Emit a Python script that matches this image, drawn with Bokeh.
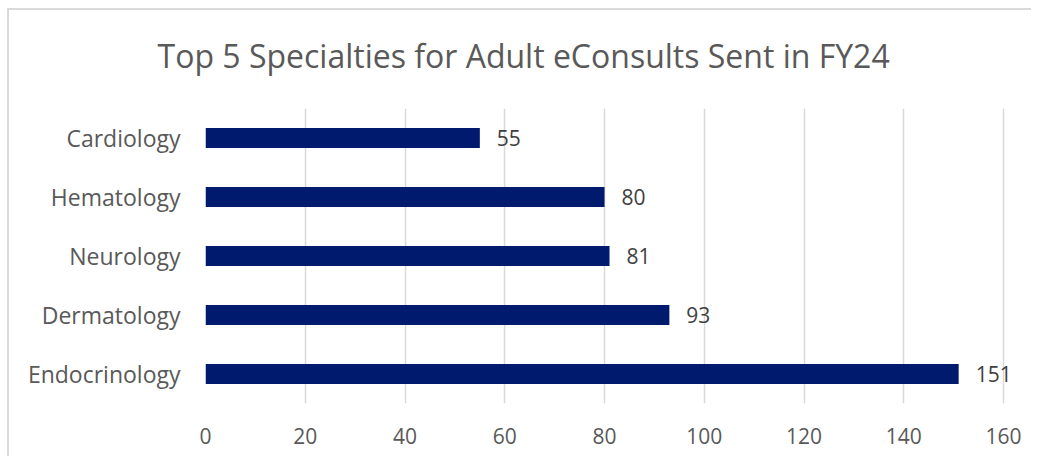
from bokeh.plotting import figure
from bokeh.layouts import column
from bokeh.models import FactorRange, Range1d, FixedTicker, ColumnDataSource, LabelSet
from bokeh.core.properties import value
from bokeh.embed import file_html
from bokeh.resources import INLINE

title = "Top 5 Specialties for Adult eConsults Sent in FY24"
categories = ["Cardiology", "Hematology", "Neurology", "Dermatology", "Endocrinology"]
values = [55, 80, 81, 93, 151]
x_ticks = [0, 20, 40, 60, 80, 100, 120, 140, 160]

FONT = "Open Sans"
GRAY = "#595959"
BAR = "#001A6E"

factors = list(reversed(categories))
src = ColumnDataSource(dict(cat=categories, val=values, lab=[str(v) for v in values]))

p = figure(width=1022, height=459, output_backend="svg", toolbar_location=None,
           y_range=FactorRange(factors=factors, range_padding=0),
           x_range=Range1d(0, 165),
           min_border_left=196, min_border_right=3, min_border_top=111, min_border_bottom=53)
p.styles = {"margin-top": "-13px"}
p.outline_line_color = None
p.background_fill_color = "white"
p.border_fill_color = None

p.title.text = title
p.title.align = "left"
p.title.offset = -48
p.title.text_font = FONT
p.title.text_font_size = "32px"
p.title.text_font_style = "normal"
p.title.text_color = GRAY
p.title.standoff = 63

p.hbar(y="cat", right="val", left=0, height=0.34, source=src, fill_color=BAR, line_color=None)

labels = LabelSet(x="val", y="cat", text="lab", source=src, x_offset=17, y_offset=0,
                  text_baseline="middle", text_align="left", text_font=value(FONT),
                  text_font_size="21px", text_color="#404040")
p.add_layout(labels)

p.xaxis.ticker = FixedTicker(ticks=x_ticks)
for ax in (p.xaxis, p.yaxis):
    ax.axis_line_color = None
    ax.major_tick_line_color = None
    ax.minor_tick_line_color = None
    ax.major_label_text_font = FONT
    ax.major_label_text_color = GRAY
p.xaxis.major_label_text_font_size = "21px"
p.yaxis.major_label_text_font_size = "23px"
p.xaxis.major_label_standoff = 18
p.yaxis.major_label_standoff = 19
p.xgrid.grid_line_color = "#d9d9d9"
p.xgrid.grid_line_width = 1.5
p.ygrid.grid_line_color = None

layout = column(p, styles={"margin-left": "7px", "margin-top": "8px",
                           "border-left": "2px solid #d9d9d9",
                           "border-top": "2px solid #d9d9d9",
                           "background-color": "white"})

open("out.html", "w").write(file_html(layout, INLINE))
